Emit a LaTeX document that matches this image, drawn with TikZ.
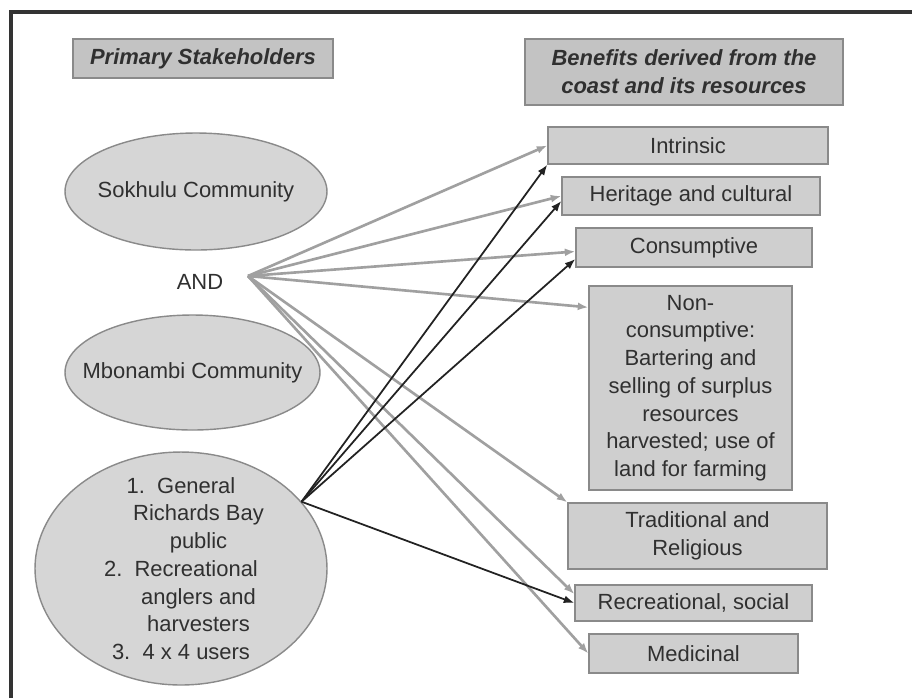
\documentclass[tikz,border=0pt]{standalone}
\usepackage{fontspec}
\setmainfont{Liberation Sans}
\usepackage{tikz}
\usetikzlibrary{shapes.geometric,arrows.meta,positioning}
\usepackage{xcolor}

\definecolor{boxgray}{HTML}{CFCFCF}
\definecolor{headgray}{HTML}{C3C3C3}
\definecolor{ovalgray}{HTML}{D6D6D6}
\definecolor{edgegray}{HTML}{8A8A8A}
\definecolor{txtgray}{HTML}{303030}
\definecolor{linkgray}{HTML}{A0A0A0}
\definecolor{linkdark}{HTML}{222222}

\tikzset{
  benefit/.style={draw=edgegray, fill=boxgray, line width=0.8pt, text=txtgray,
    align=center, inner sep=0pt, font=\fontsize{12.5}{15.8}\selectfont},
  header/.style={benefit, fill=headgray, font=\fontsize{12.5}{15.8}\selectfont\bfseries\itshape},
  group/.style={draw=edgegray, fill=ovalgray, ellipse, line width=0.8pt, text=txtgray,
    align=center, inner xsep=-1.5cm, inner ysep=-1.5cm, font=\fontsize{12.5}{15.8}\selectfont},
  graylink/.style={-{Latex[length=6pt,width=4.5pt]}, draw=linkgray, line width=1.5pt},
  darklink/.style={-{Latex[length=6pt,width=4.5pt]}, draw=linkdark, line width=1pt}
}

\begin{document}
\begin{tikzpicture}[x=0.02cm, y=-0.02cm]
    \useasboundingbox (0,0) rectangle (912,698);
    \fill[white] (0,0) rectangle (912,698);
    \draw[line width=1.8pt, black!80] (11,698) -- (11,12) -- (912,12);

    % column headers
    \node[header, minimum width=5.2cm, minimum height=0.78cm] (primary) at (203,58.5) {Primary Stakeholders};
    \node[header, minimum width=6.36cm, minimum height=1.32cm] (benefits) at (684,72) {Benefits derived from the\\coast and its resources};

    % stakeholders
    \node[group, minimum width=5.24cm, minimum height=2.34cm] (sokhulu) at (196,191.5) {Sokhulu Community};
    \node[text=txtgray, font=\fontsize{12.5}{15.8}\selectfont] (and) at (200,282) {AND};
    \node[group, minimum width=5.1cm, minimum height=2.3cm] (mbonambi) at (192.5,372.5) {Mbonambi Community};
    \node[group, minimum width=5.84cm, minimum height=4.66cm] (users) at (181,568.5)
        {1.\ \ General\\\hspace*{0.7cm}Richards Bay\\\hspace*{0.7cm}public\\2.\ \ Recreational\\\hspace*{0.7cm}anglers and\\\hspace*{0.7cm}harvesters\\3.\ \ 4 x 4 users};
    \coordinate (andhub) at (248,276);

    % benefits
    \node[benefit, minimum width=5.6cm, minimum height=0.74cm] (intrinsic) at (688,145.5) {Intrinsic};
    \node[benefit, minimum width=5.16cm, minimum height=0.76cm] (heritage) at (691,196) {Heritage and cultural};
    \node[benefit, minimum width=4.72cm, minimum height=0.78cm] (consumptive) at (694,247.5) {Consumptive};
    \node[benefit, minimum width=4.06cm, minimum height=4.08cm] (noncons) at (690.5,388)
        {Non-\\consumptive:\\Bartering and\\selling of surplus\\resources\\harvested; use of\\land for farming};
    \node[benefit, minimum width=5.18cm, minimum height=1.32cm] (traditional) at (697.5,536) {Traditional and\\Religious};
    \node[benefit, minimum width=4.74cm, minimum height=0.72cm] (recreational) at (693.5,603) {Recreational, social};
    \node[benefit, minimum width=4.18cm, minimum height=0.78cm] (medicinal) at (693.5,653.5) {Medicinal};

    % links from the two communities
    \draw[graylink] (andhub) -- (intrinsic.west);
    \draw[graylink] (andhub) -- (heritage.west);
    \draw[graylink] (andhub) -- ([yshift=-0.08cm]consumptive.west);
    \draw[graylink] (andhub) -- ([yshift=-0.44cm]noncons.north west);
    \draw[graylink] (andhub) -- (traditional.north west);
    \draw[graylink] (andhub) -- ([yshift=0.18cm]recreational.west);
    \draw[graylink] (andhub) -- (medicinal.west);

    % links from the Richards Bay users
    \draw[darklink] (users.29) -- (intrinsic.south west);
    \draw[darklink] (users.29) -- ([yshift=-0.1cm]heritage.west);
    \draw[darklink] (users.29) -- ([yshift=-0.23cm]consumptive.west);
    \draw[darklink] (users.29) -- (recreational.west);
\end{tikzpicture}
\end{document}
